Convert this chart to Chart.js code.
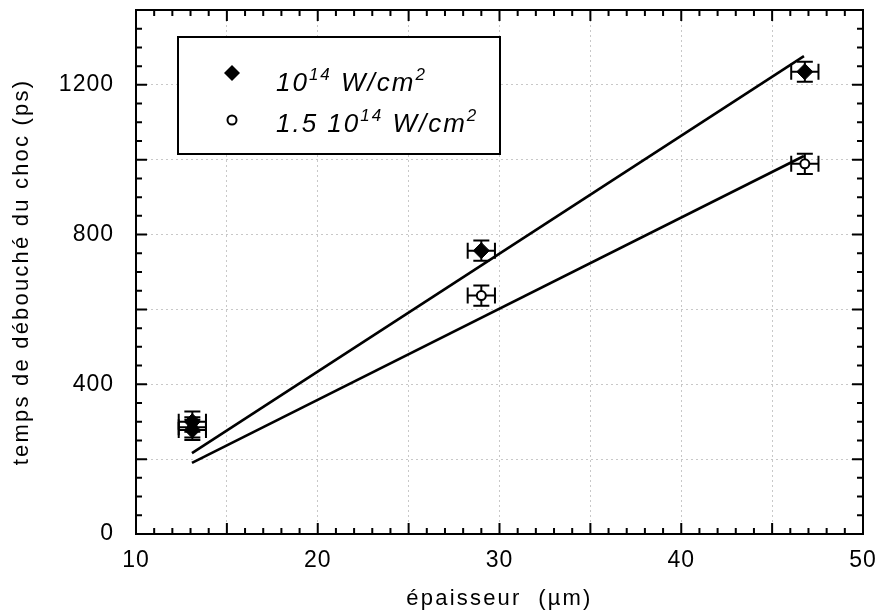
<!DOCTYPE html>
<html>
<head>
<meta charset="utf-8">
<script src="https://cdn.jsdelivr.net/npm/chart.js@4.4.0/dist/chart.umd.min.js"></script>
<style>
  html, body { margin: 0; padding: 0; background: #fff; }
</style>
</head>
<body>
<canvas id="chart" width="882" height="612"></canvas>
<script>
// 10^14 W/cm2 (filled diamonds)
const lowX = [13.1, 13.1, 29.0, 46.8];
const lowY = [300, 278, 757, 1235];
const lowErrX = [0.75, 0.75, 0.75, 0.75];
const lowErrY = [27, 27, 27, 27];
// 1.5 10^14 W/cm2 (open circles)
const highX = [13.1, 29.0, 46.8];
const highY = [285, 637, 989];
const highErrX = [0.75, 0.75, 0.75];
const highErrY = [27, 27, 27];
// fitted lines (end points)
const fitX = [13.08, 46.75];
const fitLowY = [216, 1277];
const fitHighY = [190, 1010];

const FONT = '"Liberation Sans", Arial, sans-serif';

const toPts = (xs, ys) => xs.map((v, i) => ({ x: v, y: ys[i] }));

const decor = {
    id: 'decor',
    beforeDraw(chart) {
        // axis titles are drawn in the first pass
        chart.ctx.letterSpacing = '2.2px';
    },
    beforeDatasetsDraw(chart) {
        const { ctx, scales: { x, y } } = chart;
        ctx.save();
        ctx.strokeStyle = '#000';
        ctx.lineWidth = 2;
        const bars = (xs, ys, ex, ey) => xs.forEach((v, i) => {
            const px = x.getPixelForValue(v), py = y.getPixelForValue(ys[i]);
            const l = x.getPixelForValue(v - ex[i]), r = x.getPixelForValue(v + ex[i]);
            const t = y.getPixelForValue(ys[i] + ey[i]), b = y.getPixelForValue(ys[i] - ey[i]);
            ctx.beginPath();
            ctx.moveTo(l, py); ctx.lineTo(r, py);
            ctx.moveTo(px, t); ctx.lineTo(px, b);
            ctx.moveTo(l, py - 8); ctx.lineTo(l, py + 8);
            ctx.moveTo(r, py - 8); ctx.lineTo(r, py + 8);
            ctx.moveTo(px - 8, t); ctx.lineTo(px + 8, t);
            ctx.moveTo(px - 8, b); ctx.lineTo(px + 8, b);
            ctx.stroke();
        });
        bars(highX, highY, highErrX, highErrY);
        bars(lowX, lowY, lowErrX, lowErrY);
        ctx.restore();
    },
    afterDatasetsDraw(chart) {
        // tick labels (z: 1) come after this
        chart.ctx.letterSpacing = '1px';
    },
    afterDraw(chart) {
        const { ctx, chartArea: a, scales: { x, y } } = chart;
        ctx.save();
        ctx.strokeStyle = '#000';
        ctx.lineWidth = 2;
        ctx.strokeRect(a.left, a.top, a.right - a.left, a.bottom - a.top);
        // inward ticks on all four sides
        ctx.beginPath();
        for (let v = 10; v <= 50; v++) {
            const px = x.getPixelForValue(v);
            const len = v % 5 === 0 ? 11 : 6;
            ctx.moveTo(px, a.bottom); ctx.lineTo(px, a.bottom - len);
            ctx.moveTo(px, a.top); ctx.lineTo(px, a.top + len);
        }
        for (let v = 0; v <= 1400; v += 50) {
            const py = y.getPixelForValue(v);
            const len = v % 200 === 0 ? 11 : 6;
            ctx.moveTo(a.left, py); ctx.lineTo(a.left + len, py);
            ctx.moveTo(a.right, py); ctx.lineTo(a.right - len, py);
        }
        ctx.stroke();

        // legend
        ctx.fillStyle = '#fff';
        ctx.fillRect(178, 37, 322, 117);
        ctx.strokeRect(178, 37, 322, 117);
        ctx.fillStyle = '#000';
        ctx.beginPath();
        ctx.moveTo(232, 65); ctx.lineTo(240, 73); ctx.lineTo(232, 81); ctx.lineTo(224, 73);
        ctx.closePath();
        ctx.fill();
        ctx.beginPath();
        ctx.arc(232, 120, 4.5, 0, Math.PI * 2);
        ctx.fillStyle = '#fff';
        ctx.fill();
        ctx.stroke();
        ctx.fillStyle = '#000';
        ctx.textBaseline = 'alphabetic';
        ctx.letterSpacing = '2px';
        const row = (parts, x0, base) => {
            let cx = x0;
            parts.forEach(([txt, sup]) => {
                ctx.font = sup ? 'italic 17px ' + FONT : 'italic 26px ' + FONT;
                ctx.fillText(txt, cx, sup ? base - 11 : base);
                cx += ctx.measureText(txt).width;
            });
        };
        row([['10', 0], ['14', 1], [' W/cm', 0], ['2', 1]], 276, 91);
        row([['1.5 10', 0], ['14', 1], [' W/cm', 0], ['2', 1]], 276, 132);
        ctx.restore();
    }
};

new Chart(document.getElementById('chart'), {
    type: 'scatter',
    data: {
        // first dataset ends up on top
        datasets: [
            {
                label: '10^14 W/cm2',
                data: toPts(lowX, lowY),
                pointStyle: 'rectRot',
                pointRadius: 8,
                backgroundColor: '#000',
                borderColor: '#000',
                borderWidth: 1
            },
            {
                label: '1.5 10^14 W/cm2',
                data: toPts(highX, highY),
                pointStyle: 'circle',
                pointRadius: 4.5,
                backgroundColor: '#fff',
                borderColor: '#000',
                borderWidth: 2
            },
            {
                label: 'fit 1e14',
                data: toPts(fitX, fitLowY),
                showLine: true,
                borderColor: '#000',
                borderWidth: 2.6,
                pointRadius: 0
            },
            {
                label: 'fit 1.5e14',
                data: toPts(fitX, fitHighY),
                showLine: true,
                borderColor: '#000',
                borderWidth: 2.6,
                pointRadius: 0
            }
        ]
    },
    options: {
        responsive: false,
        animation: false,
        events: [],
        layout: { padding: { top: 10, right: 19, left: 0, bottom: 0 } },
        plugins: { legend: { display: false }, tooltip: { enabled: false } },
        scales: {
            x: {
                type: 'linear',
                min: 10,
                max: 50,
                afterFit: s => {
                    s.height = 78;
                    s.paddingLeft = 0;
                    s.paddingRight = 0;
                },
                ticks: {
                    z: 1,
                    stepSize: 5,
                    autoSkip: false,
                    maxRotation: 0,
                    padding: 13,
                    color: '#000',
                    font: { family: FONT, size: 23 },
                    callback: v => (v % 10 === 0 ? v : '')
                },
                grid: { color: '#c8c8c8', lineWidth: 1, drawTicks: false },
                border: { display: false, dash: [2, 3] },
                title: {
                    display: true,
                    text: 'épaisseur  (µm)',
                    color: '#000',
                    font: { family: FONT, size: 22 },
                    padding: { top: 3, bottom: 0 }
                }
            },
            y: {
                type: 'linear',
                min: 0,
                max: 1400,
                afterFit: s => {
                    s.width = 136;
                    s.paddingTop = 0;
                    s.paddingBottom = 0;
                },
                ticks: {
                    z: 1,
                    stepSize: 200,
                    autoSkip: false,
                    padding: 22,
                    color: '#000',
                    font: { family: FONT, size: 23 },
                    callback: v => (v % 400 === 0 ? v : '')
                },
                grid: { color: '#c8c8c8', lineWidth: 1, drawTicks: false },
                border: { display: false, dash: [2, 3] },
                title: {
                    display: true,
                    text: 'temps de débouché du choc (ps)',
                    color: '#000',
                    font: { family: FONT, size: 22 },
                    padding: { top: 9, bottom: 0 }
                }
            }
        }
    },
    plugins: [decor]
});
</script>
</body>
</html>
